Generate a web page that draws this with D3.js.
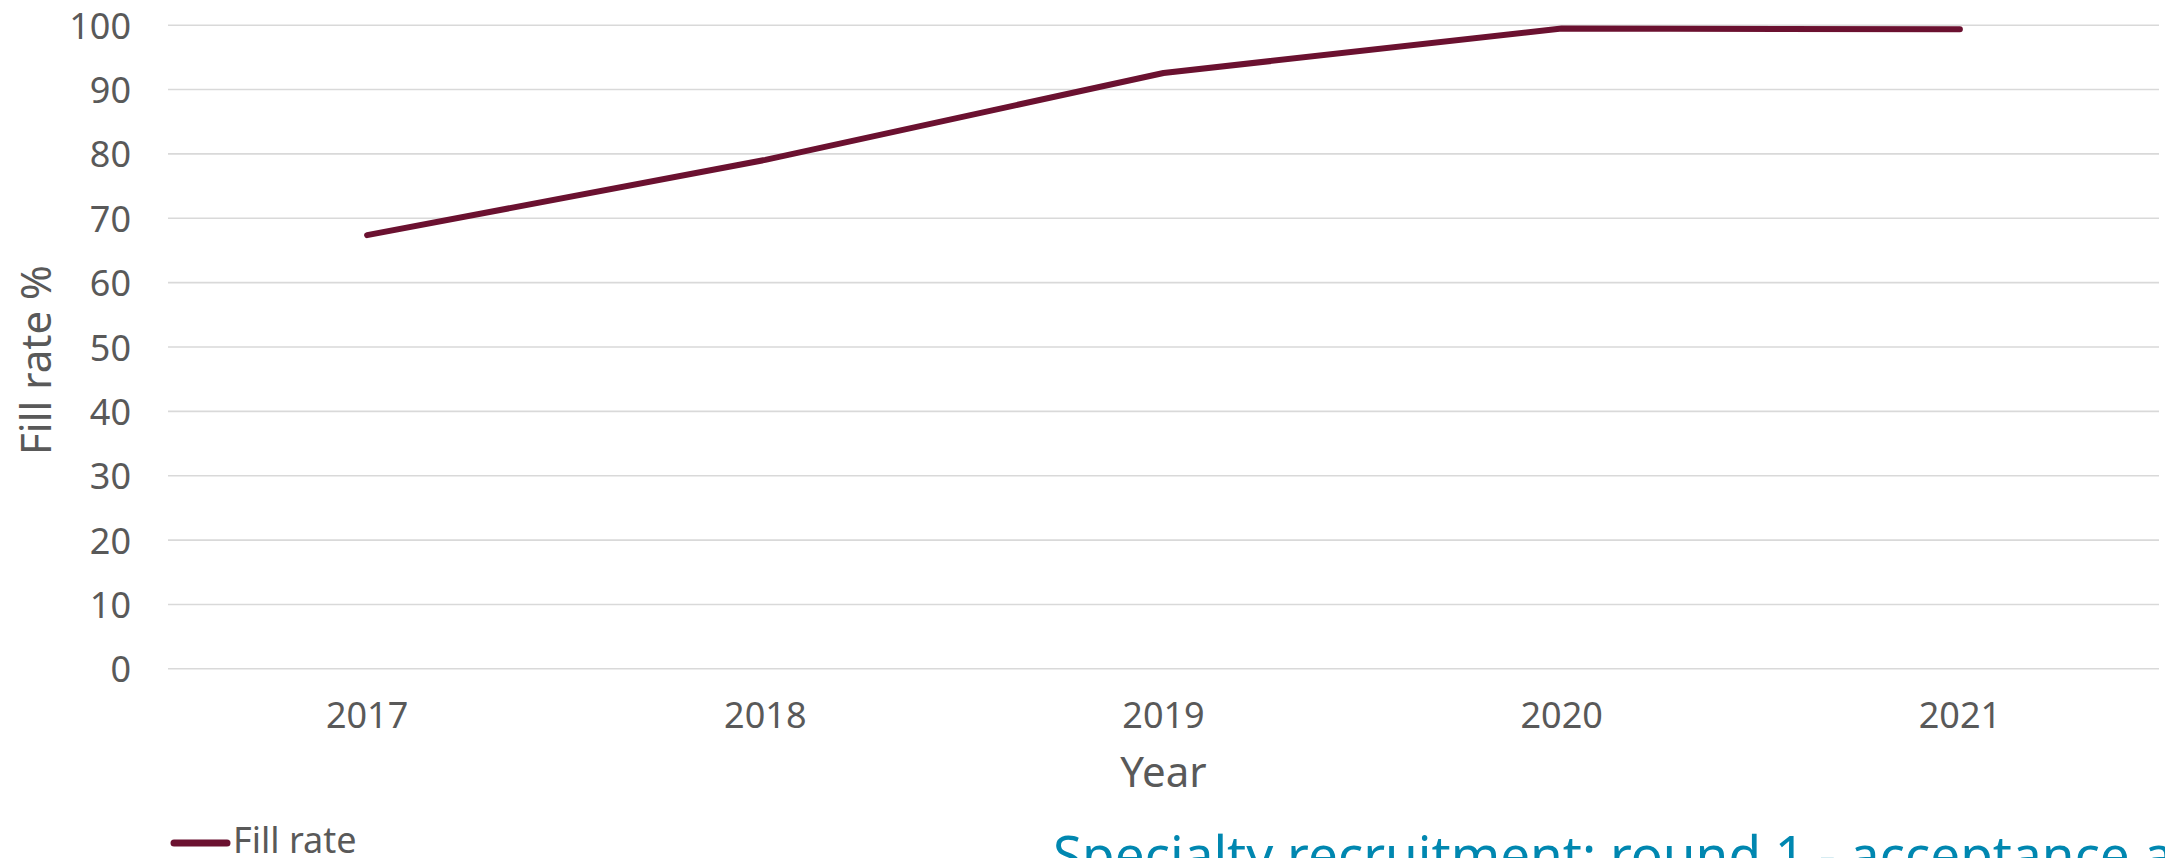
<!DOCTYPE html>
<html>
<head>
<meta charset="utf-8">
<script src="https://cdn.jsdelivr.net/npm/d3@7"></script>
<style>
  html, body { margin: 0; padding: 0; background: #fff; overflow: hidden; }
  svg { display: block; }
  text { font-family: "Noto Sans", sans-serif; }
</style>
</head>
<body>
<svg id="chart" width="2165" height="858"></svg>
<script>
// ---- data ----
const years = ["2017", "2018", "2019", "2020", "2021"];
const fillRate = [67.3, 79.0, 92.5, 99.4, 99.3];
const yTicks = [0, 10, 20, 30, 40, 50, 60, 70, 80, 90, 100];
const seriesName = "Fill rate";
const xTitle = "Year";
const yTitle = "Fill rate %";
const footerTitle = "Specialty recruitment: round 1 - acceptance and fill rates";

// ---- layout ----
const W = 2165, H = 858;
const plot = { left: 168, right: 2159, top: 24.7, bottom: 668.3 };
const textColor = "#595959";
const gridColor = "#d9d9d9";
const lineColor = "#6B1130";

const svg = d3.select("#chart");

const x = d3.scaleBand().domain(years).range([plot.left, plot.right]).padding(0);
const y = d3.scaleLinear().domain([0, 100]).range([plot.bottom, plot.top]);

// gridlines + y labels via axis
const yAxis = d3.axisLeft(y).tickValues(yTicks).tickSize(-(plot.right - plot.left)).tickPadding(37).tickFormat(d3.format("d"));
const gy = svg.append("g").attr("transform", `translate(${plot.left},0)`).call(yAxis);
gy.select(".domain").remove();
gy.selectAll(".tick line").attr("stroke", gridColor).attr("stroke-width", 1.6);
gy.selectAll(".tick text")
  .attr("fill", textColor)
  .attr("font-size", 36)
  .attr("font-family", "Noto Sans")
  .attr("dy", null)
  .attr("dominant-baseline", "central");

// x axis labels
const xAxis = d3.axisBottom(x).tickSize(0).tickPadding(0);
const gx = svg.append("g").attr("transform", `translate(0,${plot.bottom})`).call(xAxis);
gx.select(".domain").remove();
gx.selectAll(".tick text")
  .attr("fill", textColor)
  .attr("font-size", 36)
  .attr("font-family", "Noto Sans")
  .attr("y", 60)
  .attr("dy", null);

// axis titles
svg.append("text")
  .attr("x", (plot.left + plot.right) / 2)
  .attr("y", 787)
  .attr("text-anchor", "middle")
  .attr("fill", textColor)
  .attr("font-size", 42)
  .text(xTitle);

svg.append("text")
  .attr("transform", `translate(51,360) rotate(-90)`)
  .attr("text-anchor", "middle")
  .attr("fill", textColor)
  .attr("font-size", 42)
  .text(yTitle);

// line
const line = d3.line()
  .x((d, i) => x(years[i]) + x.bandwidth() / 2)
  .y(d => y(d));

svg.append("path")
  .datum(fillRate)
  .attr("d", line)
  .attr("fill", "none")
  .attr("stroke", lineColor)
  .attr("stroke-width", 6)
  .attr("stroke-linecap", "round")
  .attr("stroke-linejoin", "round");

// legend
const lg = svg.append("g");
lg.append("line")
  .attr("x1", 174).attr("x2", 227)
  .attr("y1", 843).attr("y2", 843)
  .attr("stroke", lineColor)
  .attr("stroke-width", 7)
  .attr("stroke-linecap", "round");
lg.append("text")
  .attr("x", 233)
  .attr("y", 853)
  .attr("fill", textColor)
  .attr("font-size", 36)
  .text(seriesName);

// footer title (cut off at bottom of frame, as in the reference)
svg.append("text")
  .attr("x", 1053)
  .attr("y", 874)
  .attr("fill", "#0087B0")
  .attr("font-size", 53)
  .text(footerTitle);
</script>
</body>
</html>
